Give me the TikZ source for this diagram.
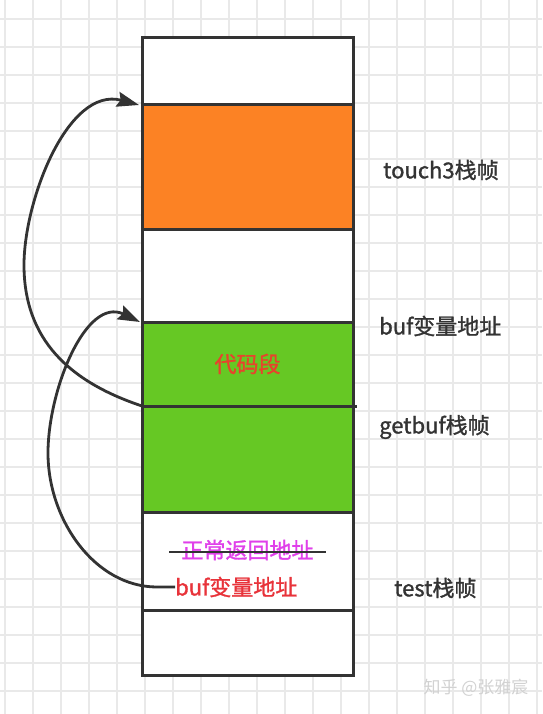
\documentclass[tikz,border=0pt]{standalone}
\usepackage{fontspec}
\setmainfont{Noto Sans CJK SC}[AutoFakeBold=1.3]
\usetikzlibrary{positioning,arrows.meta}

\definecolor{framegray}{HTML}{333333}
\definecolor{gridgray}{HTML}{E9E9E9}
\definecolor{frameorange}{HTML}{FC8224}
\definecolor{framegreen}{HTML}{66C824}
\definecolor{codered}{HTML}{E8432C}
\definecolor{bufred}{HTML}{E8333A}
\definecolor{retpink}{HTML}{E040EA}

\tikzset{
  cell/.style={draw=framegray, line width=3pt, fill=white, minimum width=211pt,
    inner sep=0pt, outer sep=0pt, font=\fontsize{22}{26}\selectfont\bfseries},
  lbl/.style={anchor=west, inner sep=0pt, text=framegray, font=\fontsize{22}{26}\selectfont\bfseries},
  jump/.style={draw=framegray, line width=2.8pt, -{Stealth[length=22pt,width=15pt,inset=3pt]}},
  gridline/.style={draw=gridgray, line width=1.5pt}
}

\begin{document}
\begin{tikzpicture}[x=1pt, y=-1pt, node distance=0pt]
  \useasboundingbox (0,0) rectangle (542,714);
  \fill[white] (0,0) rectangle (542,714);
  % background grid
  \foreach \i in {0,...,19} \draw[gridline] (5+28*\i,0) -- (5+28*\i,714);
  \foreach \j in {0,...,24} \draw[gridline] (0,19+28*\j) -- (542,19+28*\j);
  % Stack frames (top to bottom)
  \node (top) [cell, minimum height=67pt, anchor=north] at (247.5,38) {};
  \node (touch) [cell, below=of top, minimum height=124pt, fill=frameorange] {};
  \node (gap) [cell, below=of touch, minimum height=93pt] {};
  \node (code) [cell, below=of gap, minimum height=84pt, fill=framegreen, text=codered] {代码段};
  \node (getbuf) [cell, below=of code, minimum height=106pt, fill=framegreen] {};
  \node (test) [cell, below=of getbuf, minimum height=98pt] {};
  \node (bottom) [cell, below=of test, minimum height=65pt] {};
  \draw[framegray, line width=3pt] (code.south west) -- ([xshift=4pt]code.south east);
  % Labels on the right
  \node (touchlbl) [lbl, right=30pt of touch, yshift=-3pt] {touch3栈帧};
  \node (buflbl) [lbl] at (379,326) {buf变量地址};
  \node (getbuflbl) [lbl] at (379,427) {getbuf栈帧};
  \node (testlbl) [lbl] at (394,588) {test栈帧};
  % Texts in test frame
  \node (ret) [lbl, anchor=center, text=retpink] at (247.5,550) {正常返回地址};
  \draw[framegray, line width=2.5pt] ([xshift=-12pt,yshift=-2pt]ret.west) -- ([xshift=12pt,yshift=-2pt]ret.east);
  \node (bufaddr) [lbl, text=bufred] at (175,587) {buf变量地址};
  % Jumps
  \draw[jump] (code.south west) .. controls (70,382) and (24,340) .. (24,265)
    .. controls (24,200) and (68,86) .. ([xshift=-3pt]touch.north west);
  \draw[jump] (bufaddr.west) -- ++(-18,0) .. controls (95,587) and (48,520) .. (48,453)
    .. controls (48,390) and (86,296) .. ([xshift=-2pt]code.north west);
  % Watermark
  \node (mark) [text=gray!35, font=\fontsize{17}{20}\selectfont] at (476,688) {知乎 @张雅宸};
\end{tikzpicture}
\end{document}
